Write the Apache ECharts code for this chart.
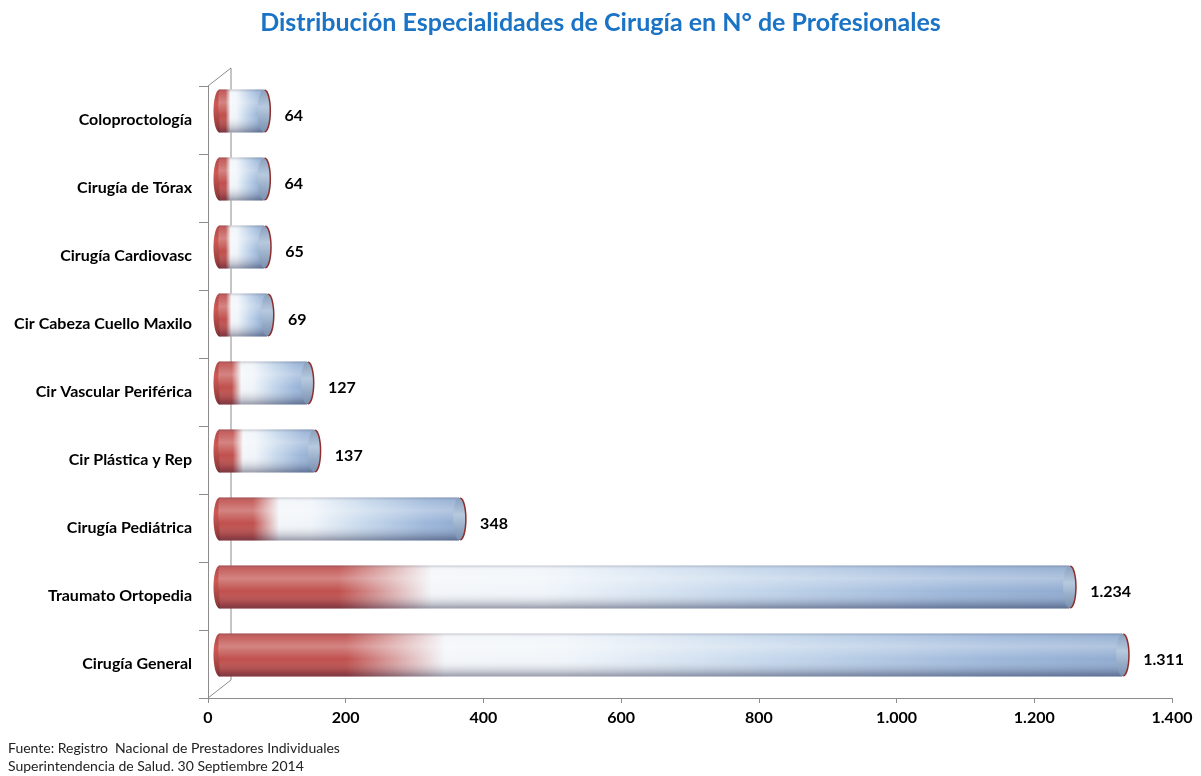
<!DOCTYPE html>
<html>
<head>
<meta charset="utf-8">
<script src="https://cdn.jsdelivr.net/npm/echarts@6/dist/echarts.min.js"></script>
<style>
  html, body { margin: 0; padding: 0; background: #fff; }
  #chart { width: 1201px; height: 776px; }
</style>
</head>
<body>
<div id="chart"></div>
<script>
// datos (de abajo hacia arriba)
var categories = ['Cirugía General', 'Traumato Ortopedia', 'Cirugía Pediátrica', 'Cir Plástica y Rep',
  'Cir Vascular Periférica', 'Cir Cabeza Cuello Maxilo', 'Cirugía Cardiovasc', 'Cirugía de Tórax', 'Coloproctología']
var values = [1311, 1234, 348, 137, 127, 69, 65, 64, 64]
var xTicks = [0, 200, 400, 600, 800, 1000, 1200, 1400]

var FONT = 'Lato, "Open Sans", sans-serif'
var DEPTH_X = 23, DEPTH_Y = -18 // profundidad 3D

function fmt(v) {
  return String(v).replace(/\B(?=(\d{3})+(?!\d))/g, '.')
}

// pared trasera en perspectiva
function renderFrame(params, api) {
  var band = api.size([0, 1])[1]
  var first = api.coord([0, 0])
  var last = api.coord([0, categories.length - 1])
  var xl = first[0]
  var yb = first[1] + band / 2
  var yt = last[1] - band / 2
  var st = { stroke: '#8c8c8c', lineWidth: 1 }
  return {
    type: 'group',
    children: [
      { type: 'line', shape: { x1: xl + DEPTH_X, y1: yt + DEPTH_Y, x2: xl + DEPTH_X, y2: yb + DEPTH_Y }, style: st },
      { type: 'line', shape: { x1: xl, y1: yt, x2: xl + DEPTH_X, y2: yt + DEPTH_Y }, style: st },
      { type: 'line', shape: { x1: xl, y1: yb, x2: xl + DEPTH_X, y2: yb + DEPTH_Y }, style: st }
    ]
  }
}

// cilindro horizontal
function renderBar(params, api) {
  var cat = api.value(1)
  var val = api.value(0)
  var p0 = api.coord([0, cat])
  var p1 = api.coord([val, cat])
  var band = api.size([0, 1])[1]
  var h = band * 0.63
  var x0 = p0[0] + DEPTH_X / 2
  var x1 = p1[0] + DEPTH_X / 2
  var cy = p0[1] + DEPTH_Y / 2
  var rx = 6
  var body = new echarts.graphic.LinearGradient(0, 0, 1, 0, [
    { offset: 0, color: '#c0504d' },
    { offset: 0.14, color: '#c0504d' },
    { offset: 0.25, color: '#f3f6f9' },
    { offset: 0.38, color: '#f0f5fa' },
    { offset: 0.62, color: '#c3d6eb' },
    { offset: 0.86, color: '#9db7da' },
    { offset: 1, color: '#90abd0' }
  ])
  var shade = new echarts.graphic.LinearGradient(0, 0, 0, 1, [
    { offset: 0, color: 'rgba(70,70,90,0.25)' },
    { offset: 0.08, color: 'rgba(255,255,255,0.1)' },
    { offset: 0.3, color: 'rgba(255,255,255,0.3)' },
    { offset: 0.6, color: 'rgba(255,255,255,0)' },
    { offset: 0.9, color: 'rgba(20,20,50,0.22)' },
    { offset: 1, color: 'rgba(20,20,50,0.4)' }
  ])
  var face = new echarts.graphic.LinearGradient(0, 0, 0, 1, [
    { offset: 0, color: '#8aa0bd' },
    { offset: 0.4, color: '#b6c9de' },
    { offset: 1, color: '#7990b0' }
  ])
  var capLeft = new echarts.graphic.LinearGradient(0, 0, 0, 1, [
    { offset: 0, color: '#b24644' },
    { offset: 0.35, color: '#cc5a57' },
    { offset: 1, color: '#8a3432' }
  ])
  return {
    type: 'group',
    children: [
      { type: 'ellipse', shape: { cx: x0, cy: cy, rx: rx, ry: h / 2 }, style: { fill: capLeft } },
      { type: 'rect', shape: { x: x0, y: cy - h / 2, width: x1 - x0, height: h }, style: { fill: body } },
      { type: 'rect', shape: { x: x0 - 1, y: cy - h / 2, width: x1 - x0 + 1, height: h }, style: { fill: shade } },
      { type: 'ellipse', shape: { cx: x1 + 1.5, cy: cy, rx: rx, ry: h / 2 }, style: { fill: '#8e2f2d' } },
      { type: 'ellipse', shape: { cx: x1, cy: cy, rx: rx, ry: h / 2 - 0.5 }, style: { fill: face } },
      {
        type: 'text',
        style: {
          x: x1 + rx + 15, y: cy + 5, text: fmt(val),
          font: 'bold 16px ' + FONT, fill: '#000', verticalAlign: 'middle', align: 'left'
        }
      }
    ]
  }
}

var chart = echarts.init(document.getElementById('chart'))
chart.setOption({
  animation: false,
  title: [
    {
      text: 'Distribución Especialidades de Cirugía en N° de Profesionales',
      left: 'center', top: 10, padding: 0,
      textStyle: { fontFamily: FONT, fontSize: 25, fontWeight: 'bold', color: '#1a73c4' }
    },
    {
      text: 'Fuente: Registro  Nacional de Prestadores Individuales\nSuperintendencia de Salud. 30 Septiembre 2014',
      left: 8, top: 739, padding: 0,
      textStyle: { fontFamily: FONT, fontSize: 14, fontWeight: 'normal', color: '#222', lineHeight: 18 }
    }
  ],
  grid: { left: 208, right: 29, top: 86, bottom: 78 },
  xAxis: {
    type: 'value', min: 0, max: 1400, interval: 200,
    splitLine: { show: false },
    axisLine: { show: true, lineStyle: { color: '#8c8c8c' } },
    axisTick: { show: true, length: 5, lineStyle: { color: '#8c8c8c' } },
    axisLabel: {
      margin: 12, color: '#000', fontFamily: FONT, fontSize: 16, fontWeight: 'bold',
      formatter: function (v) { return xTicks.indexOf(v) >= 0 ? fmt(v) : '' }
    }
  },
  yAxis: {
    type: 'category', data: categories,
    axisLine: { show: true, lineStyle: { color: '#8c8c8c' } },
    axisTick: { show: true, length: 9, lineStyle: { color: '#8c8c8c' } },
    axisLabel: {
      margin: 16, color: '#000', fontFamily: FONT, fontSize: 16, fontWeight: 'bold',
      padding: [6, 0, 0, 0]
    }
  },
  series: [
    {
      type: 'custom', renderItem: renderFrame, silent: true,
      data: [[0, categories[0]]], encode: { x: 0, y: 1 }
    },
    {
      type: 'custom', renderItem: renderBar,
      data: values.map(function (v, i) { return [v, categories[i]] }),
      encode: { x: 0, y: 1 }
    }
  ]
})
</script>
</body>
</html>
